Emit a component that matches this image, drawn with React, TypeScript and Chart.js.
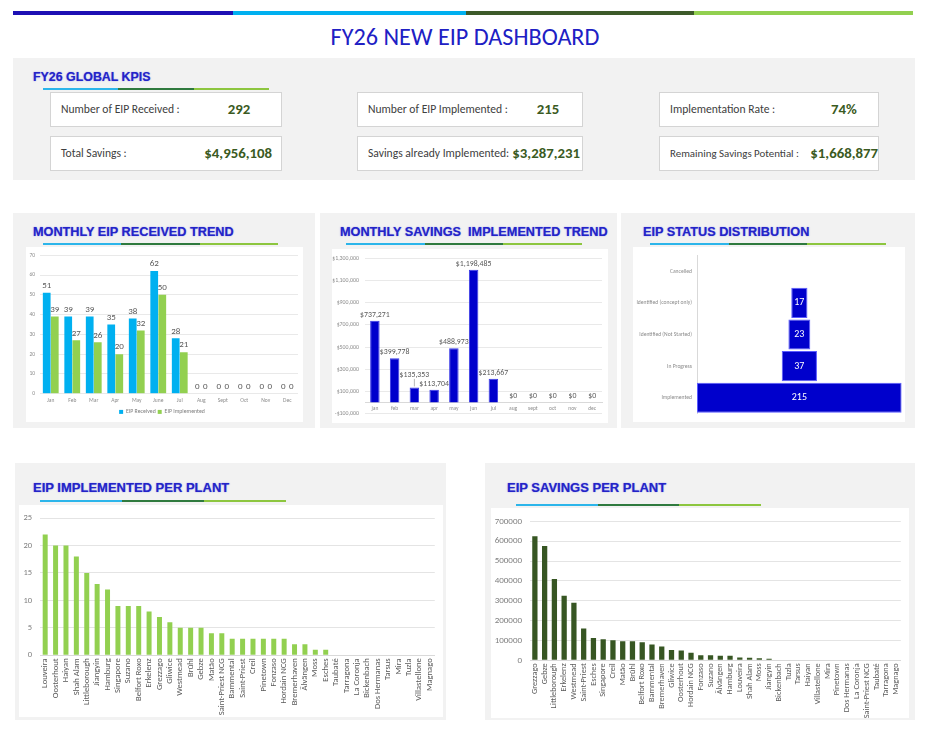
import React, { useEffect, useRef } from "react";
import { Chart, registerables } from "chart.js";

Chart.register(...registerables);

const BODY = "Carlito, Lato, sans-serif";
const HEADING = "'Liberation Sans', Arial, sans-serif";
Chart.defaults.font.family = BODY;
Chart.defaults.color = "#7f7f7f";

// ---- KPI figures ----
const kpiReceived = 292;
const kpiImplemented = 215;
const kpiRate = "74%";
const kpiTotalSavings = 4956108;
const kpiSavingsImplemented = 3287231;
const kpiRemainingSavings = 1668877;

// ---- Monthly EIP counts ----
const monthLabels = ["Jan", "Feb", "Mar", "Apr", "May", "June", "Jul", "Aug", "Sept", "Oct", "Nov", "Dec"];
const eipReceived = [51, 39, 39, 35, 38, 62, 28, 0, 0, 0, 0, 0];
const eipImplemented = [39, 27, 26, 20, 32, 50, 21, 0, 0, 0, 0, 0];

// ---- Monthly implemented savings ----
const savingsMonthLabels = ["jan", "feb", "mar", "apr", "may", "jun", "jul", "aug", "sept", "oct", "nov", "dec"];
const monthlySavings = [737271, 399778, 135353, 113704, 488973, 1198485, 213667, 0, 0, 0, 0, 0];
const savingsTicks = [-100000, 100000, 300000, 500000, 700000, 900000, 1100000, 1300000];

// ---- Status funnel ----
const statusLabels = ["Cancelled", "Identified (concept only)", "Identified (Not Started)", "In Progress", "Implemented"];
const statusCounts = [0, 17, 23, 37, 215];

// ---- Implemented EIPs per plant ----
const implPlants = [
  "Louveira", "Oosterhout", "Haiyan", "Shah Alam", "Littleborough", "Jiangyin", "Hamburg", "Singapore",
  "Suzano", "Belfort Roxo", "Erkelenz", "Grezzago", "Gliwice", "Westmead", "Brühl", "Gebze", "Matão",
  "Saint-Priest NCG", "Bammental", "Saint-Priest", "Creil", "Pinetown", "Fonzaso", "Hordain NCG",
  "Bremerhaven", "Älvängen", "Moss", "Esches", "Taubaté", "Tarragona", "La Coronja", "Bickenbach",
  "Dos Hermanas", "Tarsus", "Mira", "Tuzla", "Villastellone", "Magnago",
];
const implCounts = [
  22, 20, 20, 18, 15, 13, 12, 9, 9, 9, 8, 7, 6, 5, 5, 5, 4, 4, 3, 3, 3, 3, 3, 3, 2, 2, 1, 1,
  0, 0, 0, 0, 0, 0, 0, 0, 0, 0,
];

// ---- Savings per plant ----
const savingsPlants = [
  "Grezzago", "Gebze", "Littleborough", "Erkelenz", "Westmead", "Saint-Priest", "Esches", "Singapore",
  "Creil", "Matão", "Brühl", "Belfort Roxo", "Bammental", "Bremerhaven", "Gliwice", "Oosterhout",
  "Hordain NCG", "Fonzaso", "Suzano", "Älvängen", "Hamburg", "Louveira", "Shah Alam", "Moss", "Jiangyin",
  "Bickenbach", "Tuzla", "Tarsus", "Haiyan", "Villastellone", "Mira", "Pinetown", "Dos Hermanas",
  "La Coronja", "Saint-Priest NCG", "Taubaté", "Tarragona", "Magnago",
];
const plantSavings = [
  625000, 576000, 410000, 325000, 290000, 160000, 113000, 106000, 101000, 96000, 96000, 91000, 80000,
  70000, 52000, 49000, 37500, 26000, 26000, 23000, 23000, 14700, 13000, 9800, 8200,
  0, 0, 0, 0, 0, 0, 0, 0, 0, 0, 0, 0, 0,
];

const money = (v: number) => (v < 0 ? "-$" : "$") + Math.abs(v).toLocaleString("en-US");

// Draws a value label for every bar of every dataset.
function valueLabels(o: any) {
  return {
    id: "valueLabels",
    afterDatasetsDraw(chart: any) {
      const ctx = chart.ctx;
      ctx.save();
      ctx.font = `${o.weight || "normal"} ${o.size}px ${BODY}`;
      ctx.textAlign = "center";
      ctx.textBaseline = "middle";
      chart.data.datasets.forEach((ds: any, di: number) => {
        const meta = chart.getDatasetMeta(di);
        const items = meta.data.map((el: any, i: number) => {
          const v = o.values ? o.values[i] : ds.data[i];
          const text = o.format(v);
          if (o.inside) {
            const p = el.getCenterPoint();
            return { text, x: p.x, y: p.y, top: el.y, v, w: ctx.measureText(text).width };
          }
          return { text, x: el.x, y: el.y - o.offset, top: el.y, v, w: ctx.measureText(text).width };
        });
        if (o.avoidOverlap) {
          const h = o.size + 1;
          for (let i = items.length - 2; i >= 0; i--) {
            const a = items[i];
            const b = items[i + 1];
            if (Math.abs(a.x - b.x) < (a.w + b.w) / 2 && Math.abs(a.y - b.y) < h) a.y = b.y - h;
          }
        }
        items.forEach((it: any) => {
          if (o.skipZero && !it.v) return;
          if (o.avoidOverlap && it.y < it.top - o.offset - 1) {
            ctx.strokeStyle = "#a6a6a6";
            ctx.lineWidth = 0.8;
            ctx.beginPath();
            ctx.moveTo(it.x, it.y + o.size / 2);
            ctx.lineTo(it.x, it.top - 1);
            ctx.stroke();
          }
          ctx.fillStyle = o.color;
          ctx.fillText(it.text, it.x, it.y);
        });
      });
      ctx.restore();
    },
  };
}

function ChartCanvas({ width, height, make }: { width: number; height: number; make: () => any }) {
  const ref = useRef<HTMLCanvasElement>(null);
  useEffect(() => {
    const chart = new Chart(ref.current as HTMLCanvasElement, make());
    return () => chart.destroy();
  }, []);
  return <canvas ref={ref} width={width} height={height} style={{ display: "block", width, height }} />;
}

function ChartPanel({ left, top, width, height, make }: any) {
  return (
    <div style={{ position: "absolute", left, top, width, height, background: "#ffffff" }}>
      <ChartCanvas width={width} height={height} make={make} />
    </div>
  );
}

const monthlyCountConfig = () => ({
  type: "bar",
  data: {
    labels: monthLabels,
    datasets: [
      { label: "EIP Received", data: eipReceived, backgroundColor: "#00B0F0" },
      { label: "EIP Implemented", data: eipImplemented, backgroundColor: "#92D050" },
    ],
  },
  options: {
    responsive: false,
    animation: false,
    layout: { padding: { top: 5.7, right: 5, left: 0, bottom: 0 } },
    datasets: { bar: { categoryPercentage: 0.75, barPercentage: 0.96 } },
    scales: {
      x: {
        grid: { display: false, drawTicks: false },
        border: { display: false },
        ticks: { font: { size: 5.5 }, color: "#8c8c8c", padding: 4, maxRotation: 0, autoSkip: false },
        afterFit: (s: any) => { s.height = 13.3; },
      },
      y: {
        min: 0,
        max: 70,
        ticks: { stepSize: 10, font: { size: 5.5 }, color: "#8c8c8c", padding: 5 },
        grid: { color: "#e9e9e9", drawTicks: false },
        border: { display: false },
        afterFit: (s: any) => { s.width = 14; },
      },
    },
    plugins: {
      legend: {
        position: "bottom",
        maxHeight: 15,
        labels: { boxWidth: 4, boxHeight: 4, padding: 2, font: { size: 5.8 }, color: "#7f7f7f" },
      },
      tooltip: { enabled: false },
    },
  },
  plugins: [valueLabels({ size: 9, color: "#595959", offset: 7, format: (v: number) => String(v) })],
});

const monthlySavingsConfig = () => ({
  type: "bar",
  data: {
    labels: savingsMonthLabels,
    datasets: [
      { label: "Savings", data: monthlySavings, backgroundColor: "#0000CC", borderColor: "#3a3ae6", borderWidth: 1 },
    ],
  },
  options: {
    responsive: false,
    animation: false,
    layout: { padding: { top: 5.3, right: 6, left: 0, bottom: 6.3 } },
    datasets: { bar: { categoryPercentage: 0.8, barPercentage: 0.6 } },
    scales: {
      x: {
        position: { y: 0 },
        grid: { display: false, drawTicks: false },
        border: { display: true, color: "#d9d9d9" },
        ticks: { font: { size: 5.5 }, color: "#8c8c8c", padding: 3, maxRotation: 0, autoSkip: false },
      },
      y: {
        min: savingsTicks[0],
        max: savingsTicks[savingsTicks.length - 1],
        afterBuildTicks: (s: any) => { s.ticks = savingsTicks.map((value) => ({ value })); },
        ticks: { font: { size: 5.9 }, color: "#8c8c8c", padding: 6, callback: (v: any) => money(Number(v)) },
        grid: { color: "#e9e9e9", drawTicks: false },
        border: { display: false },
        afterFit: (s: any) => { s.width = 33; },
      },
    },
    plugins: { legend: { display: false }, tooltip: { enabled: false } },
  },
  plugins: [valueLabels({ size: 7.8, color: "#595959", offset: 6, format: money, avoidOverlap: true })],
});

const statusHalf = Math.max(...statusCounts) / 2;
const statusConfig = () => ({
  type: "bar",
  data: {
    labels: statusLabels,
    datasets: [
      {
        label: "Status",
        data: statusCounts.map((v) => [-v / 2, v / 2]),
        backgroundColor: "#0000CC",
        borderColor: "#5a5aff",
        borderWidth: (c: any) => (statusCounts[c.dataIndex] ? 1 : 0),
        borderSkipped: false,
      },
    ],
  },
  options: {
    indexAxis: "y",
    responsive: false,
    animation: false,
    layout: { padding: { top: 3.5, right: 3.3, left: 0, bottom: 3 } },
    datasets: { bar: { categoryPercentage: 0.95, barPercentage: 1 } },
    scales: {
      x: { display: false, min: -statusHalf, max: statusHalf },
      y: {
        grid: { display: false, drawTicks: false },
        border: { display: true, color: "#d9d9d9" },
        ticks: { font: { size: 5.6 }, color: "#8c8c8c", padding: 5 },
        afterFit: (s: any) => { s.width = 64; },
      },
    },
    plugins: { legend: { display: false }, tooltip: { enabled: false } },
  },
  plugins: [
    valueLabels({
      size: 10,
      color: "#ffffff",
      inside: true,
      skipZero: true,
      values: statusCounts,
      format: (v: number) => String(v),
    }),
  ],
});

const plantCountConfig = () => ({
  type: "bar",
  data: { labels: implPlants, datasets: [{ label: "Implemented", data: implCounts, backgroundColor: "#92D050" }] },
  options: {
    responsive: false,
    animation: false,
    layout: { padding: { top: 8.3, right: 6, left: 0, bottom: 0 } },
    datasets: { bar: { categoryPercentage: 0.8, barPercentage: 0.6 } },
    scales: {
      x: {
        grid: { display: false, drawTicks: false },
        border: { display: true, color: "#d9d9d9" },
        ticks: { font: { size: 8.6 }, color: "#595959", padding: 3, autoSkip: false, minRotation: 90, maxRotation: 90 },
        afterFit: (s: any) => { s.height = 61.7; },
      },
      y: {
        min: 0,
        max: 25,
        ticks: { stepSize: 5, font: { size: 8.5 }, color: "#7f7f7f", padding: 8 },
        grid: { color: "#e4e4e4", drawTicks: false },
        border: { display: false },
        afterFit: (s: any) => { s.width = 21; },
      },
    },
    plugins: { legend: { display: false }, tooltip: { enabled: false } },
  },
});

const plantSavingsConfig = () => ({
  type: "bar",
  data: { labels: savingsPlants, datasets: [{ label: "Savings", data: plantSavings, backgroundColor: "#375623" }] },
  options: {
    responsive: false,
    animation: false,
    layout: { padding: { top: 9.3, right: 7, left: 0, bottom: 0 } },
    datasets: { bar: { categoryPercentage: 0.9, barPercentage: 0.6 } },
    scales: {
      x: {
        grid: { display: false, drawTicks: false },
        border: { display: true, color: "#d9d9d9" },
        ticks: { font: { size: 8.3 }, color: "#595959", padding: 3, autoSkip: false, minRotation: 90, maxRotation: 90 },
        afterFit: (s: any) => { s.height = 57.7; },
      },
      y: {
        min: 0,
        max: 700000,
        ticks: { stepSize: 100000, font: { size: 9 }, color: "#7f7f7f", padding: 8, callback: (v: any) => String(v) },
        grid: { color: "#e4e4e4", drawTicks: false },
        border: { display: false },
        afterFit: (s: any) => { s.width = 39; },
      },
    },
    plugins: { legend: { display: false }, tooltip: { enabled: false } },
  },
});

function Panel({ left, top, width, height }: any) {
  return <div style={{ position: "absolute", left, top, width, height, background: "#f2f2f2" }} />;
}

function SectionTitle({ left, cy, text, size = 12.7 }: any) {
  return (
    <div
      style={{
        position: "absolute",
        left,
        top: cy - 9,
        height: 18,
        fontFamily: HEADING,
        fontWeight: "bold",
        fontSize: size,
        lineHeight: "18px",
        color: "#2424c8",
        textShadow: "0 0 1.2px rgba(60,60,220,0.7)",
        whiteSpace: "pre",
      }}
    >
      {text}
    </div>
  );
}

function Underline({ left, top, width }: any) {
  return (
    <div style={{ position: "absolute", left, top, width, height: 2, display: "flex" }}>
      <div style={{ flex: 1, background: "#2cb5ea" }} />
      <div style={{ flex: 1, background: "#2f7a3e" }} />
      <div style={{ flex: 1, background: "#8dc63f" }} />
    </div>
  );
}

function KpiBox({ left, top, width, label, value, labelSize = 11.6, valueCenter, valueRight }: any) {
  const valueStyle: any = {
    position: "absolute",
    top: 0,
    fontFamily: BODY,
    fontWeight: "bold",
    fontSize: 14.8,
    lineHeight: "33px",
    color: "#3a5a22",
    whiteSpace: "nowrap",
  };
  if (valueCenter !== undefined) {
    valueStyle.left = valueCenter - 40;
    valueStyle.width = 80;
    valueStyle.textAlign = "center";
  } else {
    valueStyle.right = valueRight;
  }
  return (
    <div
      style={{
        position: "absolute",
        left,
        top,
        width: width - 2,
        height: 35 - 2,
        background: "#ffffff",
        border: "1px solid #d4d4d4",
      }}
    >
      <div
        style={{
          position: "absolute",
          left: 10,
          top: 0,
          lineHeight: "33px",
          fontSize: labelSize,
          fontFamily: BODY,
          color: "#404040",
          whiteSpace: "nowrap",
        }}
      >
        {label}
      </div>
      <div style={valueStyle}>{value}</div>
    </div>
  );
}

export default function App() {
  return (
    <div style={{ position: "absolute", left: 0, top: 0, width: 943, height: 734, background: "#ffffff", fontFamily: BODY }}>
      {/* header colour band */}
      <div style={{ position: "absolute", left: 13, top: 11, width: 900, height: 4, display: "flex" }}>
        <div style={{ width: 220, background: "#1d10b4" }} />
        <div style={{ width: 233, background: "#00b0f0" }} />
        <div style={{ width: 228, background: "#3d5a2a" }} />
        <div style={{ width: 219, background: "#92d050" }} />
      </div>
      <div
        style={{
          position: "absolute",
          left: 0,
          width: 930,
          top: 22,
          lineHeight: "30px",
          textAlign: "center",
          fontSize: 24.2,
          fontFamily: BODY,
          color: "#2020c4",
        }}
      >
        FY26 NEW EIP DASHBOARD
      </div>

      {/* KPI block */}
      <Panel left={13} top={58} width={902} height={122} />
      <SectionTitle left={33} cy={77} text="FY26 GLOBAL KPIS" size={12.4} />
      <Underline left={43} top={87.5} width={226} />
      <KpiBox left={50} top={92} width={232} label="Number of EIP Received :" value={String(kpiReceived)} valueCenter={188} />
      <KpiBox left={357} top={92} width={226} label="Number of EIP Implemented :" value={String(kpiImplemented)} valueCenter={190} />
      <KpiBox left={659} top={92} width={220} label="Implementation Rate :" value={kpiRate} valueCenter={184} />
      <KpiBox left={50} top={136} width={232} label="Total Savings :" value={money(kpiTotalSavings)} valueRight={9} />
      <KpiBox left={357} top={136} width={226} label="Savings already Implemented:" value={money(kpiSavingsImplemented)} valueRight={2} />
      <KpiBox left={659} top={136} width={220} label="Remaining Savings Potential :" value={money(kpiRemainingSavings)} valueRight={0} labelSize={10.9} />

      {/* middle row */}
      <Panel left={13} top={213} width={302} height={215} />
      <Panel left={320} top={213} width={297} height={215} />
      <Panel left={621} top={213} width={294} height={215} />
      <SectionTitle left={33} cy={232} text="MONTHLY EIP RECEIVED TREND" />
      <SectionTitle left={340} cy={232} text="MONTHLY SAVINGS  IMPLEMENTED TREND" />
      <SectionTitle left={643} cy={232} text="EIP STATUS DISTRIBUTION" />
      <Underline left={43} top={243} width={235} />
      <Underline left={346} top={243} width={236} />
      <Underline left={650} top={243} width={236} />
      <ChartPanel left={26} top={247} width={277} height={175} make={monthlyCountConfig} />
      <ChartPanel left={332} top={249} width={276} height={174} make={monthlySavingsConfig} />
      <ChartPanel left={633} top={247} width={272} height={175} make={statusConfig} />

      {/* bottom row */}
      <Panel left={15} top={463} width={431} height={257} />
      <Panel left={485} top={463} width={430} height={257} />
      <SectionTitle left={33} cy={488} text="EIP IMPLEMENTED PER PLANT" size={13} />
      <SectionTitle left={507} cy={488} text="EIP SAVINGS PER PLANT" size={13} />
      <Underline left={40} top={500} width={246} />
      <Underline left={516} top={504} width={245} />
      <ChartPanel left={19} top={505} width={424} height={212} make={plantCountConfig} />
      <ChartPanel left={491} top={508} width={418} height={210} make={plantSavingsConfig} />
    </div>
  );
}
